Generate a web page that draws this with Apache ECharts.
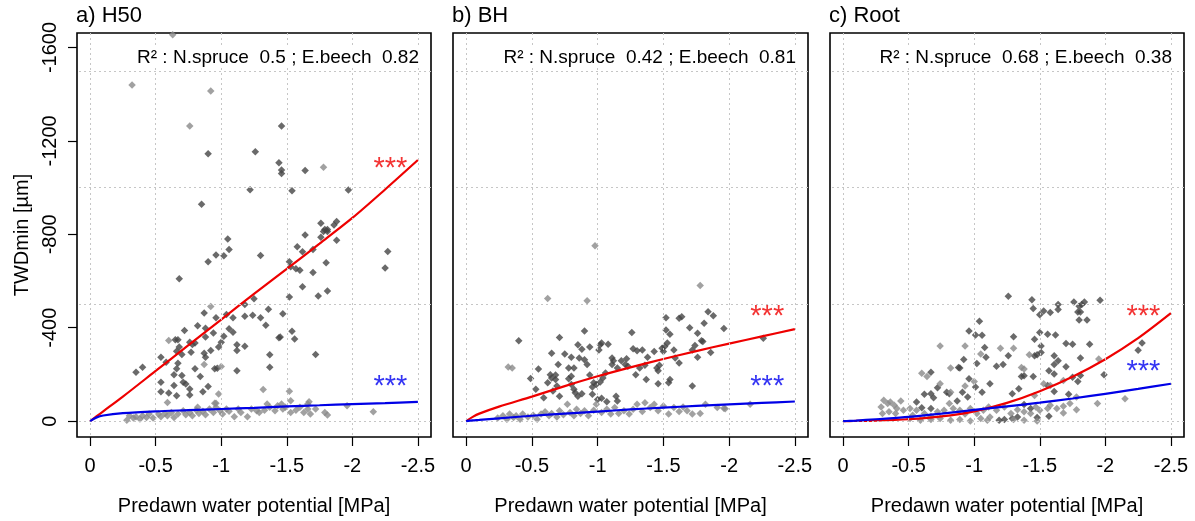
<!DOCTYPE html>
<html>
<head>
<meta charset="utf-8">
<title>TWDmin vs predawn water potential</title>
<script src="https://cdn.jsdelivr.net/npm/echarts@6/dist/echarts.min.js"></script>
<style>
  html, body { margin: 0; padding: 0; background: #fff; }
  #chart { width: 1195px; height: 521px; }
</style>
</head>
<body>
<div id="chart"></div>
<script>
// Axis ticks and grid lines
const xTicks = [0, -0.5, -1, -1.5, -2, -2.5];
const yTicks = [0, -400, -800, -1200, -1600];
const xGridValues = [0, -0.5, -1, -1.5, -2, -2.5];
const yGridValues = [0, -500, -1000, -1500];

// Panels
const panelTitles = ['a) H50', 'b) BH', 'c) Root'];
const r2Spruce = ['0.5', '0.42', '0.68'];
const r2Beech = ['0.82', '0.81', '0.38'];

// Fitted curves (predawn water potential in MPa, TWDmin in µm)
const fitX = [0, -0.05, -0.1, -0.25, -0.5, -0.75, -1, -1.25, -1.5, -1.75, -2, -2.25, -2.5];
const fitSpruceH50 = [0, -21, -42, -105, -215, -325, -435, -545, -652, -760, -870, -992, -1118];
const fitBeechH50 = [0, -16, -24, -34, -42, -47, -52, -57, -63, -68, -73, -77, -82];
const fitSpruceBH = [0, -18, -32, -62, -105, -150, -192, -230, -266, -300, -332, -363, -394];
const fitBeechBH = [0, -3, -5, -12, -23, -32, -41, -50, -58, -65, -72, -78, -84];
const fitSpruceRoot = [0, 0, -1, -2, -8, -20, -42, -78, -128, -190, -265, -355, -462];
const fitBeechRoot = [0, -1, -2, -8, -18, -32, -48, -63, -79, -97, -117, -138, -160];

// Observations: [predawn water potential, TWDmin]
const spruceH50 = [
  [-1.79,-821],[-1.81,-821],[-1.64,-797],[-1.76,-787],[-1.58,-747],[-1.62,-725],[-1.88,-775],[-1.70,-735],
  [-1.05,-780],[-1.06,-735],[-0.96,-711],[-1.02,-708],[-0.90,-682],[-1.30,-709],[-2.27,-726],[-2.25,-656],
  [-0.68,-610],[-1.52,-682],[-1.53,-661],[-1.57,-653],[-1.60,-646],[-1.80,-678],[-1.70,-636],[-1.62,-575],
  [-1.81,-557],[-1.74,-536],[-1.52,-532],[-1.25,-524],[-1.18,-499],[-1.36,-479],[-1.47,-460],[-1.30,-443],
  [-1.24,-453],[-1.18,-449],[-1.04,-457],[-1.09,-443],[-0.96,-443],[-0.87,-463],[-1.34,-410],[-1.06,-396],
  [-1.09,-381],[-1.54,-385],[-1.56,-352],[-1.44,-357],[-1.45,-360],[-0.82,-408],[-0.88,-398],[-0.94,-377],
  [-1.02,-363],[-1.00,-338],[-0.72,-388],[-0.65,-348],[-0.67,-348],[-0.76,-338],[-0.78,-328],[-0.80,-334],
  [-0.88,-360],[-1.12,-327],[-1.18,-321],[-1.12,-302],[-0.98,-317],[-0.92,-302],[-0.87,-291],[-0.88,-274],
  [-0.77,-295],[-0.70,-285],[-0.66,-299],[-0.68,-317],[-0.54,-274],[-0.58,-252],[-0.67,-248],[-0.64,-199],
  [-0.66,-224],[-0.70,-195],[-0.80,-224],[-0.40,-231],[-0.35,-209],[-0.71,-166],[-0.73,-159],[-0.76,-138],
  [-0.76,-112],[-0.64,-152],[-0.54,-166],[-0.54,-126],[-0.60,-120],[-0.66,-109],[-0.84,-191],[-0.90,-148],
  [-0.86,-126],[-0.95,-224],[-0.97,-226],[-1.12,-216],[-1.37,-284],[-1.37,-231],[-1.72,-285],
  [-0.90,-1145],[-0.85,-929],[-1.26,-1154],[-1.46,-1264],[-1.44,-1106],[-1.46,-1075],[-1.46,-1060],
  [-1.64,-1073],[-1.22,-991],[-1.54,-986],[-1.97,-990],[-1.76,-847],[-1.88,-855],[-1.86,-840],
  [-1.78,-812],[-1.81,-812]
];
const beechH50 = [
  [-0.28,-4],[-0.30,-23],[-0.33,-13],[-0.35,-19],[-0.38,-9],[-0.40,-23],[-0.43,-16],[-0.45,-30],
  [-0.48,-13],[-0.52,-30],[-0.54,-19],[-0.57,-33],[-0.59,-23],[-0.62,-37],[-0.64,-16],[-0.67,-30],
  [-0.71,-44],[-0.73,-27],[-0.76,-37],[-0.78,-23],[-0.81,-47],[-0.83,-33],[-0.86,-42],[-0.88,-27],
  [-0.91,-52],[-0.94,-37],[-0.96,-59],[-0.99,-44],[-1.01,-30],[-1.04,-52],[-1.06,-42],[-1.10,-19],
  [-1.13,-52],[-1.15,-37],[-1.20,-19],[-1.23,-52],[-1.27,-44],[-1.29,-37],[-1.33,-47],[-1.37,-59],
  [-1.41,-44],[-1.43,-66],[-1.47,-52],[-1.49,-59],[-1.53,-37],[-1.57,-47],[-1.60,-59],[-1.63,-37],
  [-1.66,-52],[-1.68,-30],[-1.72,-52],[-1.79,-37],[-1.81,-26],[-1.66,-73],[-1.46,-73],[-1.35,-73],
  [-0.96,-76],[-0.82,-59],
  [-0.92,-491],[-1.00,-234],[-0.87,-242],[-0.60,-345],[-1.32,-135],[-1.52,-128],[-0.98,-116],
  [-1.53,-87],[-1.67,-83],[-1.96,-66],[-2.16,-40],[-0.59,-80],[-0.95,-77],
  [-0.32,-1439],[-0.92,-1414],[-0.76,-1264],[-0.63,-1654],[-1.78,-1087]
];
const spruceBH = [
  [-0.40,-344],[-0.49,-182],[-0.55,-223],[-0.53,-136],[-0.59,-100],[-0.65,-291],[-0.68,-197],[-0.65,-185],
  [-0.68,-178],[-0.71,-358],[-0.70,-242],[-0.75,-287],[-0.78,-228],[-0.80,-273],[-0.82,-228],[-0.85,-327],
  [-0.90,-386],[-0.88,-308],[-0.86,-270],[-0.90,-263],[-0.92,-242],[-0.78,-181],[-0.80,-157],[-0.82,-136],
  [-0.83,-122],[-0.85,-107],[-0.88,-117],[-0.80,-192],[-0.69,-150],[-0.66,-129],[-0.71,-107],[-0.62,-164],
  [-0.64,-199],[-0.94,-317],[-1.01,-305],[-1.02,-327],[-1.08,-329],[-1.03,-334],[-0.94,-197],[-0.97,-164],
  [-0.96,-146],[-0.99,-157],[-1.02,-168],[-1.04,-185],[-1.06,-206],[-0.96,-115],[-1.00,-93],[-1.03,-98],
  [-1.11,-270],[-1.12,-259],[-1.15,-228],[-1.11,-242],[-1.07,-83],[-1.14,-107],[-1.15,-86],[-1.18,-259],
  [-1.21,-242],[-1.23,-235],[-1.22,-267],[-1.26,-380],[-1.27,-310],[-1.30,-301],[-1.34,-305],[-1.29,-199],
  [-1.32,-228],[-1.36,-239],[-1.37,-178],[-1.38,-273],[-1.43,-298],[-1.45,-228],[-1.47,-239],[-1.46,-216],
  [-1.46,-160],[-1.54,-164],[-1.55,-178],[-1.49,-312],[-1.50,-298],[-1.51,-320],[-1.53,-334],[-1.52,-390],
  [-1.52,-443],[-1.55,-372],[-1.58,-305],[-1.59,-270],[-1.62,-249],[-1.62,-440],[-1.64,-447],[-1.70,-400],
  [-1.72,-305],[-1.74,-324],[-1.76,-273],[-1.72,-150],[-1.76,-376],[-1.79,-344],[-1.80,-341],[-1.81,-419],
  [-1.84,-468],[-1.88,-451],[-1.86,-294],[-1.96,-397],[-2.26,-355]
];
const beechBH = [
  [-0.24,-13],[-0.28,-23],[-0.31,-8],[-0.33,-30],[-0.36,-16],[-0.38,-23],[-0.41,-8],[-0.43,-30],
  [-0.47,-18],[-0.51,-25],[-0.54,-8],[-0.57,-30],[-0.60,-40],[-0.63,-23],[-0.65,-33],[-0.69,-18],
  [-0.71,-44],[-0.74,-27],[-0.77,-72],[-0.79,-37],[-0.82,-23],[-0.84,-51],[-0.87,-33],[-0.90,-44],
  [-0.93,-23],[-0.97,-47],[-0.99,-72],[-1.03,-37],[-1.07,-51],[-1.10,-30],[-1.13,-58],[-1.16,-33],
  [-1.20,-44],[-1.24,-30],[-1.27,-51],[-1.30,-72],[-1.34,-41],[-1.36,-79],[-1.40,-58],[-1.43,-72],
  [-1.46,-44],[-1.50,-65],[-1.54,-30],[-1.58,-58],[-1.62,-41],[-1.65,-61],[-1.68,-44],[-1.72,-30],
  [-1.78,-33],[-1.82,-72],[-1.91,-58],[-1.96,-55],[-1.97,-53],[-2.16,-72],
  [-0.98,-751],[-0.62,-525],[-0.92,-515],[-1.78,-581],[-0.32,-232],[-0.35,-228]
];
const spruceRoot = [
  [-1.26,-535],[-1.44,-520],[-1.45,-482],[-1.50,-455],[-1.53,-472],[-1.58,-465],[-1.64,-499],[-1.64,-478],
  [-1.76,-510],[-1.80,-492],[-1.82,-499],[-1.84,-510],[-1.79,-467],[-1.81,-467],[-1.86,-433],[-1.80,-433],
  [-1.96,-518],[-1.04,-428],[-0.96,-386],[-1.01,-369],[-1.06,-368],[-1.08,-315],[-1.30,-361],[-1.50,-379],
  [-1.56,-372],[-1.62,-369],[-1.46,-351],[-1.51,-322],[-1.70,-332],[-1.75,-329],[-1.88,-329],[-1.09,-273],
  [-1.26,-280],[-1.46,-280],[-1.48,-284],[-1.51,-294],[-1.61,-280],[-1.61,-242],[-1.64,-259],[-1.22,-242],
  [-1.17,-235],[-1.02,-247],[-0.92,-264],[-0.88,-230],[-0.89,-228],[-0.67,-209],[-1.36,-191],[-1.38,-194],
  [-1.45,-191],[-1.57,-216],[-1.61,-202],[-1.70,-233],[-1.75,-188],[-1.81,-195],[-1.81,-270],[-1.12,-160],
  [-0.96,-181],[-1.01,-146],[-1.06,-124],[-0.72,-143],[-0.67,-117],[-0.69,-100],[-0.79,-124],[-0.81,-117],
  [-0.91,-124],[-0.95,-103],[-0.87,-86],[-0.62,-115],[-0.56,-82],[-0.60,-57],[-0.67,-54],[-1.29,-117],
  [-1.34,-139],[-1.56,-153],[-1.61,-127],[-1.72,-115],[-1.79,-170],[-1.38,-71],[-1.43,-54],[-1.19,-4],
  [-1.23,-7],[-1.29,-11],[-1.33,-18],[-1.48,-16],[-1.57,-21],[-2.28,-334],[-2.25,-304],[-1.99,-199]
];
const beechRoot = [
  [-0.31,-89],[-0.34,-75],[-0.36,-82],[-0.29,-61],[-0.39,-68],[-0.44,-86],[-0.41,-54],[-0.30,-33],
  [-0.35,-40],[-0.40,-33],[-0.46,-47],[-0.51,-54],[-0.53,-25],[-0.56,-47],[-0.62,-33],[-0.67,-21],
  [-0.72,-40],[-0.77,-47],[-0.81,-75],[-0.84,-54],[-0.89,-47],[-0.93,-30],[-0.97,-54],[-1.02,-33],
  [-1.07,-47],[-1.11,-61],[-1.12,-18],[-1.17,-47],[-1.23,-61],[-1.28,-33],[-1.33,-49],[-1.38,-40],
  [-1.43,-33],[-1.47,-61],[-1.50,-47],[-1.56,-54],[-1.58,-68],[-1.63,-54],[-1.68,-64],[-1.73,-75],
  [-0.51,-11],[-0.59,-4],[-0.67,-7],[-0.74,-11],[-0.82,-4],[-0.89,-7],[-0.97,-1],[-1.05,-11],
  [-1.10,-4],[-1.30,-7],[-1.38,-4],[-1.48,-1],
  [-0.74,-322],[-0.93,-322],[-1.05,-287],[-1.20,-312],[-1.30,-312],[-1.42,-284],[-1.36,-230],[-0.82,-228],
  [-0.60,-205],[-0.64,-191],[-0.74,-160],[-0.82,-124],[-0.93,-150],[-1.00,-170],[-1.38,-223],[-1.53,-160],
  [-1.58,-153],[-1.46,-110],[-1.68,-174],[-1.78,-103],[-1.94,-75],[-1.95,-266],[-2.15,-96],[-1.68,-35],
  [-1.78,-49]
];

const spruceSets = [spruceH50, spruceBH, spruceRoot];
const beechSets = [beechH50, beechBH, beechRoot];
const spruceFits = [fitSpruceH50, fitSpruceBH, fitSpruceRoot];
const beechFits = [fitBeechH50, fitBeechBH, fitBeechRoot];

// Layout of the three plotting boxes (pixels)
const boxes = [
  { left: 77, width: 354 },
  { left: 453, width: 355 },
  { left: 830, width: 354 }
];
const boxTop = 33, boxHeight = 407;
// Significance marks placed in data space: [x, y] for spruce (red) and beech (blue)
const starPos = [
  { red: [-2.29, -1080], blue: [-2.29, -148] },
  { red: [-2.29, -445], blue: [-2.29, -148] },
  { red: [-2.29, -445], blue: [-2.29, -212] }
];

const FONT = 'Liberation Sans, Arial, sans-serif';
const SPRUCE_PT = '#454545';
const BEECH_PT = '#8a8a8a';
const fmt = v => String(v);

const grids = [], xAxes = [], yAxes = [], series = [], titles = [];

boxes.forEach((b, i) => {
  grids.push({
    left: b.left, top: boxTop, width: b.width, height: boxHeight,
    show: true, borderColor: '#000', borderWidth: 1.6, backgroundColor: '#fff'
  });
  // axes sit on the box edges, ticks point outwards
  xAxes.push({
    type: 'value', gridIndex: i, min: -2.6, max: 0.1, inverse: true,
    axisLine: { show: false, onZero: false }, splitLine: { show: false },
    axisTick: { show: true, customValues: xTicks, length: 9, lineStyle: { color: '#000', width: 1.2 } },
    axisLabel: { customValues: xTicks, formatter: fmt, fontSize: 20, color: '#000', fontFamily: FONT, margin: 19 },
    name: 'Predawn water potential [MPa]', nameLocation: 'middle', nameGap: 59,
    nameTextStyle: { fontSize: 20, color: '#000', fontFamily: FONT }
  });
  yAxes.push({
    type: 'value', gridIndex: i, min: -1662, max: 68, inverse: true,
    axisLine: { show: false, onZero: false }, splitLine: { show: false },
    axisTick: { show: i === 0, customValues: yTicks, length: 9, lineStyle: { color: '#000', width: 1.2 } },
    axisLabel: { show: i === 0, customValues: yTicks, formatter: fmt, rotate: 90, fontSize: 20, color: '#000', fontFamily: FONT, margin: 17 },
    name: i === 0 ? 'TWDmin [µm]' : '', nameLocation: 'middle', nameGap: 45, nameRotate: 90,
    nameTextStyle: { fontSize: 20, color: '#000', fontFamily: FONT }
  });

  // dotted reference grid
  series.push({
    type: 'scatter', xAxisIndex: i, yAxisIndex: i, data: [], z: 1, silent: true,
    markLine: {
      silent: true, symbol: 'none', animation: false,
      label: { show: false },
      lineStyle: { color: '#c6c6c6', width: 1, type: [2, 3] },
      data: xGridValues.map(v => ({ xAxis: v })).concat(yGridValues.map(v => ({ yAxis: v })))
    }
  });
  series.push({
    name: 'N.spruce', type: 'scatter', xAxisIndex: i, yAxisIndex: i, z: 2,
    symbol: 'diamond', symbolSize: 7.5, itemStyle: { color: SPRUCE_PT },
    data: spruceSets[i], animation: false
  });
  series.push({
    name: 'E.beech', type: 'scatter', xAxisIndex: i, yAxisIndex: i, z: 3,
    symbol: 'diamond', symbolSize: 7.5, itemStyle: { color: BEECH_PT },
    data: beechSets[i], animation: false
  });
  series.push({
    type: 'line', xAxisIndex: i, yAxisIndex: i, z: 4, smooth: 0.3, showSymbol: false,
    lineStyle: { color: '#ee0000', width: 2.2 },
    data: fitX.map((x, k) => [x, spruceFits[i][k]]), animation: false
  });
  series.push({
    type: 'line', xAxisIndex: i, yAxisIndex: i, z: 5, smooth: 0.3, showSymbol: false,
    lineStyle: { color: '#0000e6', width: 2.2 },
    data: fitX.map((x, k) => [x, beechFits[i][k]]), animation: false
  });
  // significance marks
  series.push({
    type: 'scatter', xAxisIndex: i, yAxisIndex: i, z: 6, symbolSize: 1, silent: true,
    itemStyle: { color: 'rgba(0,0,0,0)' }, animation: false,
    label: { show: true, position: 'inside', formatter: '***', fontSize: 29, fontFamily: FONT },
    data: [
      { value: starPos[i].red, label: { color: '#f00000' } },
      { value: starPos[i].blue, label: { color: '#0000f0' } }
    ]
  });

  titles.push({
    text: panelTitles[i], left: b.left - 1, top: 5, padding: 0,
    textStyle: { fontSize: 22, fontWeight: 'normal', color: '#000', fontFamily: FONT }
  });
  titles.push({
    text: 'R² : N.spruce  ' + r2Spruce[i] + ' ; E.beech  ' + r2Beech[i],
    right: 1195 - (b.left + b.width - 10), top: 47, padding: [1, 2],
    backgroundColor: '#fff',
    textStyle: { fontSize: 19, fontWeight: 'normal', color: '#000', fontFamily: FONT }
  });
});

const chart = echarts.init(document.getElementById('chart'), null, { renderer: 'canvas' });
chart.setOption({
  animation: false,
  backgroundColor: '#fff',
  title: titles,
  grid: grids,
  xAxis: xAxes,
  yAxis: yAxes,
  series: series
});
</script>
</body>
</html>
